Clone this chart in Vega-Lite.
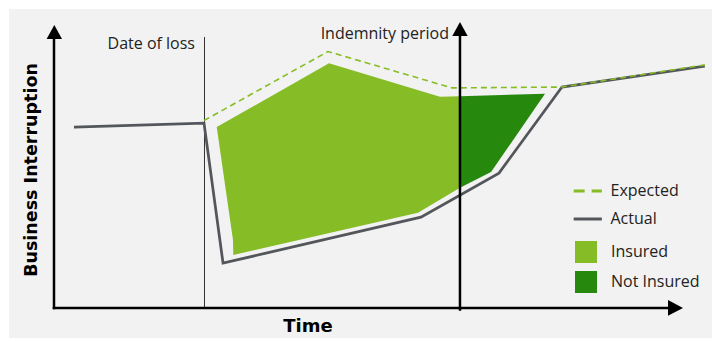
{
  "$schema": "https://vega.github.io/schema/vega-lite/v6.json",
  "width": 712,
  "height": 341,
  "autosize": {"type": "none"},
  "padding": 0,
  "background": "white",
  "config": {"view": {"stroke": null}, "font": "Open Sans"},
  "datasets": {
    "lines": [
      {"series": "Actual", "order": 1, "t": 3.17, "v": 63.7},
      {"series": "Actual", "order": 2, "t": 23.81, "v": 65.1},
      {"series": "Actual", "order": 3, "t": 26.83, "v": 15.8},
      {"series": "Actual", "order": 4, "t": 58.25, "v": 32.0},
      {"series": "Actual", "order": 5, "t": 70.63, "v": 47.5},
      {"series": "Actual", "order": 6, "t": 80.63, "v": 77.8},
      {"series": "Actual", "order": 7, "t": 103.3, "v": 85.2},
      {"series": "Expected", "order": 1, "t": 23.81, "v": 66.0},
      {"series": "Expected", "order": 2, "t": 43.49, "v": 90.3},
      {"series": "Expected", "order": 3, "t": 63.17, "v": 77.5},
      {"series": "Expected", "order": 4, "t": 80.63, "v": 77.8},
      {"series": "Expected", "order": 5, "t": 103.3, "v": 85.6}
    ],
    "regions": [
      {"region": "Insured", "order": 1, "t": 25.83, "v": 63.7},
      {"region": "Insured", "order": 2, "t": 43.65, "v": 86.2},
      {"region": "Insured", "order": 3, "t": 61.27, "v": 74.4},
      {"region": "Insured", "order": 4, "t": 64.44, "v": 74.6},
      {"region": "Insured", "order": 5, "t": 64.44, "v": 42.3},
      {"region": "Insured", "order": 6, "t": 57.78, "v": 33.5},
      {"region": "Insured", "order": 7, "t": 28.46, "v": 18.7},
      {"region": "Insured", "order": 8, "t": 28.41, "v": 23.9},
      {"region": "Not Insured", "order": 1, "t": 64.44, "v": 74.6},
      {"region": "Not Insured", "order": 2, "t": 77.94, "v": 75.4},
      {"region": "Not Insured", "order": 3, "t": 69.37, "v": 47.9},
      {"region": "Not Insured", "order": 4, "t": 64.44, "v": 42.3}
    ]
  },
  "layer": [
    {
      "data": {"values": [{}]},
      "mark": {"type": "rect", "color": "#f2f2f2"},
      "encoding": {
        "x": {"datum": -7.14, "type": "quantitative", "scale": {"domain": [-8.571, 104.444], "nice": false, "zero": false}, "axis": null},
        "x2": {"datum": 104.444},
        "y": {"datum": 105.3, "type": "quantitative", "scale": {"domain": [-11.62, 108.45], "nice": false, "zero": false}, "axis": null},
        "y2": {"datum": -10.6}
      }
    },
    {
      "data": {"name": "regions"},
      "mark": {"type": "line", "filled": true, "strokeWidth": 0},
      "encoding": {
        "x": {"field": "t", "type": "quantitative", "scale": {"domain": [-8.571, 104.444], "nice": false, "zero": false}, "axis": null},
        "y": {"field": "v", "type": "quantitative", "scale": {"domain": [-11.62, 108.45], "nice": false, "zero": false}, "axis": null},
        "order": {"field": "order", "type": "quantitative"},
        "fill": {
          "field": "region", "type": "nominal",
          "scale": {"domain": ["Insured", "Not Insured"], "range": ["#86bc25", "#26890d"]},
          "legend": {
            "orient": "none", "legendX": 575, "legendY": 241, "title": null, "padding": 0,
            "symbolType": "square", "symbolSize": 484, "symbolStrokeWidth": 0, "symbolOpacity": 1,
            "labelFontSize": 16, "labelFont": "Open Sans", "labelColor": "#222222", "labelOffset": 14,
            "rowPadding": 8
          }
        }
      }
    },
    {
      "data": {"values": [{}]},
      "mark": {"type": "rule", "color": "#333333", "strokeWidth": 1},
      "encoding": {
        "x": {"datum": 23.889, "type": "quantitative", "scale": {"domain": [-8.571, 104.444], "nice": false, "zero": false}, "axis": null},
        "y": {"datum": 0, "type": "quantitative", "scale": {"domain": [-11.62, 108.45], "nice": false, "zero": false}, "axis": null},
        "y2": {"datum": 95.4}
      }
    },
    {
      "data": {"name": "lines"},
      "transform": [{"filter": "datum.series === 'Actual'"}],
      "mark": {"type": "line", "strokeWidth": 2.75, "strokeJoin": "miter"},
      "encoding": {
        "x": {"field": "t", "type": "quantitative", "scale": {"domain": [-8.571, 104.444], "nice": false, "zero": false}, "axis": null},
        "y": {"field": "v", "type": "quantitative", "scale": {"domain": [-11.62, 108.45], "nice": false, "zero": false}, "axis": null},
        "order": {"field": "order", "type": "quantitative"},
        "stroke": {
          "field": "series", "type": "nominal",
          "scale": {"domain": ["Expected", "Actual"], "range": ["#86bc25", "#53565a"]},
          "legend": {
            "orient": "none", "legendX": 573.75, "legendY": 177, "title": null, "padding": 0,
            "symbolType": "M-1.15,0H1.15", "symbolSize": 600, "symbolStrokeWidth": 3,
            "labelFontSize": 16, "labelFont": "Open Sans", "labelColor": "#222222", "labelOffset": 8.75,
            "rowPadding": 6,
            "encode": {"symbols": {"update": {"strokeDash": {"signal": "datum.value === 'Expected' ? [11,7] : [1,0]"}}}}
          }
        }
      }
    },
    {
      "data": {"name": "lines"},
      "transform": [{"filter": "datum.series === 'Expected'"}],
      "mark": {"type": "line", "strokeWidth": 1.6, "strokeDash": [6, 4]},
      "encoding": {
        "x": {"field": "t", "type": "quantitative", "scale": {"domain": [-8.571, 104.444], "nice": false, "zero": false}, "axis": null},
        "y": {"field": "v", "type": "quantitative", "scale": {"domain": [-11.62, 108.45], "nice": false, "zero": false}, "axis": null},
        "order": {"field": "order", "type": "quantitative"},
        "stroke": {
          "field": "series", "type": "nominal",
          "scale": {"domain": ["Expected", "Actual"], "range": ["#86bc25", "#53565a"]},
          "legend": {
            "orient": "none", "legendX": 573.75, "legendY": 177, "title": null, "padding": 0,
            "symbolType": "M-1.15,0H1.15", "symbolSize": 600, "symbolStrokeWidth": 3,
            "labelFontSize": 16, "labelFont": "Open Sans", "labelColor": "#222222", "labelOffset": 8.75,
            "rowPadding": 6,
            "encode": {"symbols": {"update": {"strokeDash": {"signal": "datum.value === 'Expected' ? [11,7] : [1,0]"}}}}
          }
        }
      }
    },
    {
      "data": {"values": [{}]},
      "mark": {"type": "rule", "color": "black", "strokeWidth": 2.5},
      "encoding": {
        "x": {"datum": 0, "type": "quantitative", "scale": {"domain": [-8.571, 104.444], "nice": false, "zero": false}, "axis": null},
        "y": {"datum": -0.45, "type": "quantitative", "scale": {"domain": [-11.62, 108.45], "nice": false, "zero": false}, "axis": null},
        "y2": {"datum": 95.8}
      }
    },
    {
      "data": {"values": [{}]},
      "mark": {"type": "rule", "color": "black", "strokeWidth": 2.5},
      "encoding": {
        "x": {"datum": -0.2, "type": "quantitative", "scale": {"domain": [-8.571, 104.444], "nice": false, "zero": false}, "axis": null},
        "x2": {"datum": 97.8},
        "y": {"datum": 0, "type": "quantitative", "scale": {"domain": [-11.62, 108.45], "nice": false, "zero": false}, "axis": null}
      }
    },
    {
      "data": {"values": [{}]},
      "mark": {"type": "rule", "color": "black", "strokeWidth": 2.5},
      "encoding": {
        "x": {"datum": 64.44, "type": "quantitative", "scale": {"domain": [-8.571, 104.444], "nice": false, "zero": false}, "axis": null},
        "y": {"datum": -1.0, "type": "quantitative", "scale": {"domain": [-11.62, 108.45], "nice": false, "zero": false}, "axis": null},
        "y2": {"datum": 96.5}
      }
    },
    {
      "data": {"values": [{"t": 0.05, "v": 99.65}, {"t": 64.44, "v": 100.7}]},
      "mark": {"type": "point", "shape": "M0,0L-1.1,2L1.1,2Z", "filled": true, "size": 196, "color": "black", "opacity": 1, "strokeWidth": 0},
      "encoding": {
        "x": {"field": "t", "type": "quantitative", "scale": {"domain": [-8.571, 104.444], "nice": false, "zero": false}, "axis": null},
        "y": {"field": "v", "type": "quantitative", "scale": {"domain": [-11.62, 108.45], "nice": false, "zero": false}, "axis": null}
      }
    },
    {
      "data": {"values": [{"t": 99.84, "v": 0}]},
      "mark": {"type": "point", "shape": "M0,0L-2,-1.05L-2,1.05Z", "filled": true, "size": 225, "color": "black", "opacity": 1, "strokeWidth": 0},
      "encoding": {
        "x": {"field": "t", "type": "quantitative", "scale": {"domain": [-8.571, 104.444], "nice": false, "zero": false}, "axis": null},
        "y": {"field": "v", "type": "quantitative", "scale": {"domain": [-11.62, 108.45], "nice": false, "zero": false}, "axis": null}
      }
    },
    {
      "data": {"values": [
        {"label": "Date of loss", "t": 22.38, "v": 92.96},
        {"label": "Indemnity period", "t": 62.7, "v": 96.5}
      ]},
      "mark": {"type": "text", "align": "right", "baseline": "middle", "fontSize": 16, "font": "Open Sans", "color": "#222222"},
      "encoding": {
        "x": {"field": "t", "type": "quantitative", "scale": {"domain": [-8.571, 104.444], "nice": false, "zero": false}, "axis": null},
        "y": {"field": "v", "type": "quantitative", "scale": {"domain": [-11.62, 108.45], "nice": false, "zero": false}, "axis": null},
        "text": {"field": "label"}
      }
    },
    {
      "data": {"values": [{"label": "Business Interruption", "t": -3.49, "v": 48.6}]},
      "mark": {"type": "text", "align": "center", "baseline": "middle", "angle": 270, "fontSize": 17.5, "fontWeight": "bold", "font": "DejaVu Sans", "color": "black"},
      "encoding": {
        "x": {"field": "t", "type": "quantitative", "scale": {"domain": [-8.571, 104.444], "nice": false, "zero": false}, "axis": null},
        "y": {"field": "v", "type": "quantitative", "scale": {"domain": [-11.62, 108.45], "nice": false, "zero": false}, "axis": null},
        "text": {"field": "label"}
      }
    },
    {
      "data": {"values": [{"label": "Time", "t": 40.3, "v": -6.69}]},
      "mark": {"type": "text", "align": "center", "baseline": "middle", "fontSize": 18, "fontWeight": "bold", "font": "DejaVu Sans", "color": "black"},
      "encoding": {
        "x": {"field": "t", "type": "quantitative", "scale": {"domain": [-8.571, 104.444], "nice": false, "zero": false}, "axis": null},
        "y": {"field": "v", "type": "quantitative", "scale": {"domain": [-11.62, 108.45], "nice": false, "zero": false}, "axis": null},
        "text": {"field": "label"}
      }
    }
  ]
}
